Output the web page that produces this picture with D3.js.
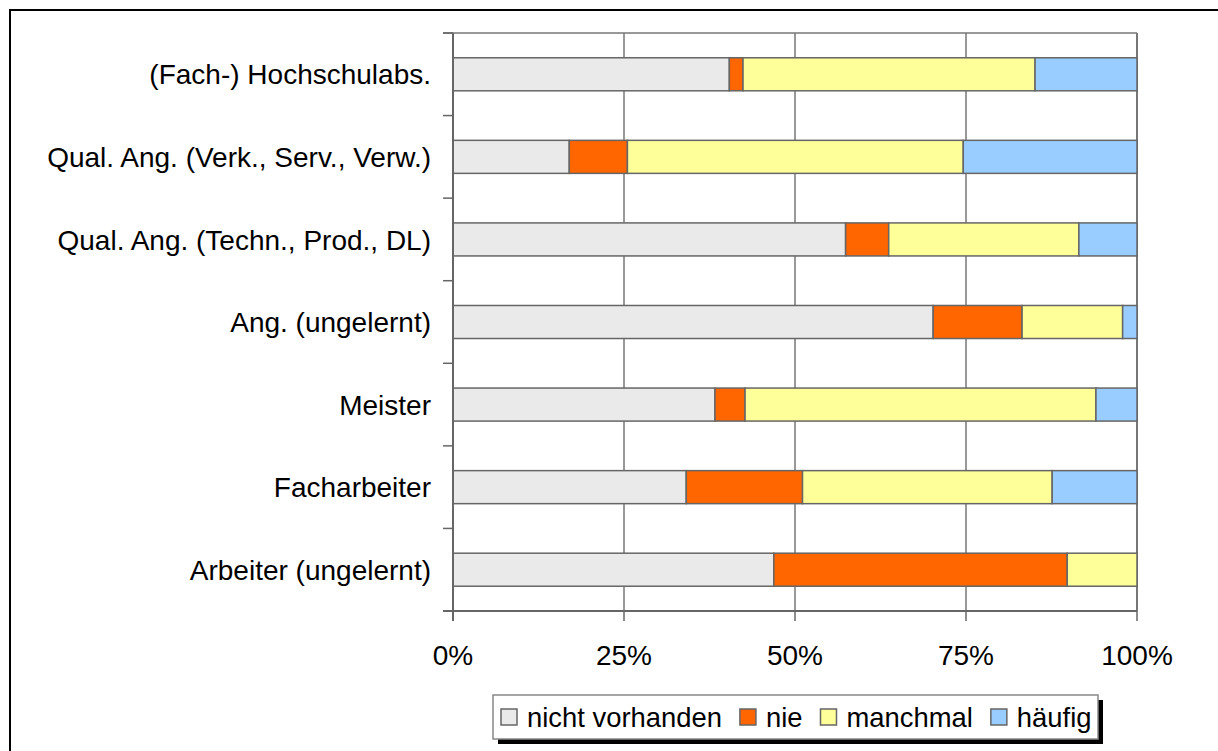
<!DOCTYPE html>
<html>
<head>
<meta charset="utf-8">
<script src="https://d3js.org/d3.v7.min.js"></script>
<style>
  body { margin: 0; background: #fff; }
  text { font-family: "Liberation Sans", Arial, sans-serif; fill: #000; }
</style>
</head>
<body>
<script>
// categories, top to bottom
var categories = ["(Fach-) Hochschulabs.", "Qual. Ang. (Verk., Serv., Verw.)", "Qual. Ang. (Techn., Prod., DL)",
  "Ang. (ungelernt)", "Meister", "Facharbeiter", "Arbeiter (ungelernt)"];
var seriesNames = ["nicht vorhanden", "nie", "manchmal", "häufig"];
var seriesColors = ["#eaeaea", "#ff6600", "#ffff99", "#99ccff"];

// shares in percent, one value per category
var nichtVorhanden = [40.4, 17.0, 57.4, 70.2, 38.3, 34.1, 46.9];
var nie            = [ 2.0,  8.5,  6.3, 13.0,  4.4, 17.0, 42.9];
var manchmal       = [42.7, 49.1, 27.8, 14.7, 51.3, 36.5, 10.2];
var haeufig        = [14.9, 25.4,  8.5,  2.1,  6.0, 12.4,  0.0];
var xTicks = [0, 25, 50, 75, 100];

var W = 1218, H = 751;
var margin = {top: 33, left: 453},
    width = 684,
    height = 578;

var svg = d3.select("body").append("svg")
    .attr("width", W)
    .attr("height", H);

// outer frame (runs off the right and bottom edge)
svg.append("path")
    .attr("d", "M10," + (H + 5) + "V10H" + (W + 5))
    .attr("fill", "none")
    .attr("stroke", "#000")
    .attr("stroke-width", 2);

var g = svg.append("g")
    .attr("transform", "translate(" + margin.left + "," + margin.top + ")");

var x = d3.scaleLinear().domain([0, 100]).range([0, width]);
var y = d3.scaleBand().domain(categories).range([0, height])
    .paddingInner(0.6).paddingOuter(0.3);

// build rows for stacking
var rows = categories.map(function(c, i) {
  return {cat: c, "nicht vorhanden": nichtVorhanden[i], "nie": nie[i], "manchmal": manchmal[i], "häufig": haeufig[i]};
});
var stacked = d3.stack().keys(seriesNames)(rows);

// vertical grid lines
g.selectAll(".grid")
    .data(xTicks.slice(1))
  .enter().append("line")
    .attr("x1", function(d) { return x(d); })
    .attr("x2", function(d) { return x(d); })
    .attr("y1", 0)
    .attr("y2", height)
    .attr("stroke", "#777")
    .attr("stroke-width", function(d) { return d == 100 ? 2 : 1.5; });

// top frame line of plot
g.append("line")
    .attr("x1", -10).attr("x2", width)
    .attr("y1", 0).attr("y2", 0)
    .attr("stroke", "#777").attr("stroke-width", 1.5);

// bars
g.selectAll(".series")
    .data(stacked)
  .enter().append("g")
    .attr("fill", function(d, i) { return seriesColors[i]; })
  .selectAll("rect")
    .data(function(d) { return d; })
  .enter().append("rect")
    .attr("x", function(d) { return x(d[0]); })
    .attr("y", function(d) { return y(d.data.cat); })
    .attr("width", function(d) { return x(d[1]) - x(d[0]); })
    .attr("height", y.bandwidth())
    .attr("stroke", "#666")
    .attr("stroke-width", 1.5);

// y axis: ticks on band boundaries
var bounds = d3.range(categories.length + 1).map(function(i) { return i * height / categories.length; });
g.selectAll(".ytick")
    .data(bounds)
  .enter().append("line")
    .attr("x1", -10).attr("x2", 0)
    .attr("y1", function(d) { return d; })
    .attr("y2", function(d) { return d; })
    .attr("stroke", "#666").attr("stroke-width", 1.5);
g.append("line")
    .attr("x1", 0).attr("x2", 0)
    .attr("y1", 0).attr("y2", height + 10)
    .attr("stroke", "#666").attr("stroke-width", 2);

g.selectAll(".ylabel")
    .data(categories)
  .enter().append("text")
    .attr("x", -22)
    .attr("y", function(d) { return y(d) + y.bandwidth() / 2; })
    .attr("dy", "0.36em")
    .attr("text-anchor", "end")
    .style("font-size", "28px")
    .text(function(d) { return d; });

// x axis
g.append("line")
    .attr("x1", -10).attr("x2", width)
    .attr("y1", height).attr("y2", height)
    .attr("stroke", "#666").attr("stroke-width", 2);
g.selectAll(".xtick")
    .data(xTicks)
  .enter().append("line")
    .attr("x1", function(d) { return x(d); })
    .attr("x2", function(d) { return x(d); })
    .attr("y1", height).attr("y2", height + 10)
    .attr("stroke", "#666").attr("stroke-width", 1.5);
g.selectAll(".xlabel")
    .data(xTicks)
  .enter().append("text")
    .attr("x", function(d) { return x(d); })
    .attr("y", 665 - margin.top)
    .attr("text-anchor", "middle")
    .style("font-size", "28px")
    .text(function(d) { return d + "%"; });

// legend
var lg = svg.append("g");
lg.append("rect")
    .attr("x", 498).attr("y", 700)
    .attr("width", 605).attr("height", 44)
    .attr("fill", "#000");
lg.append("rect")
    .attr("x", 493).attr("y", 695)
    .attr("width", 605).attr("height", 44)
    .attr("fill", "#fff")
    .attr("stroke", "#888").attr("stroke-width", 1.5);

var lx = 501;
seriesNames.forEach(function(name, i) {
  lg.append("rect")
      .attr("x", lx).attr("y", 709)
      .attr("width", 16).attr("height", 16)
      .attr("fill", seriesColors[i])
      .attr("stroke", "#666").attr("stroke-width", 1.5);
  var t = lg.append("text")
      .attr("x", lx + 26).attr("y", 727)
      .style("font-size", "27.4px")
      .text(name);
  lx = lx + 26 + t.node().getComputedTextLength() + 18;
});
</script>
</body>
</html>
